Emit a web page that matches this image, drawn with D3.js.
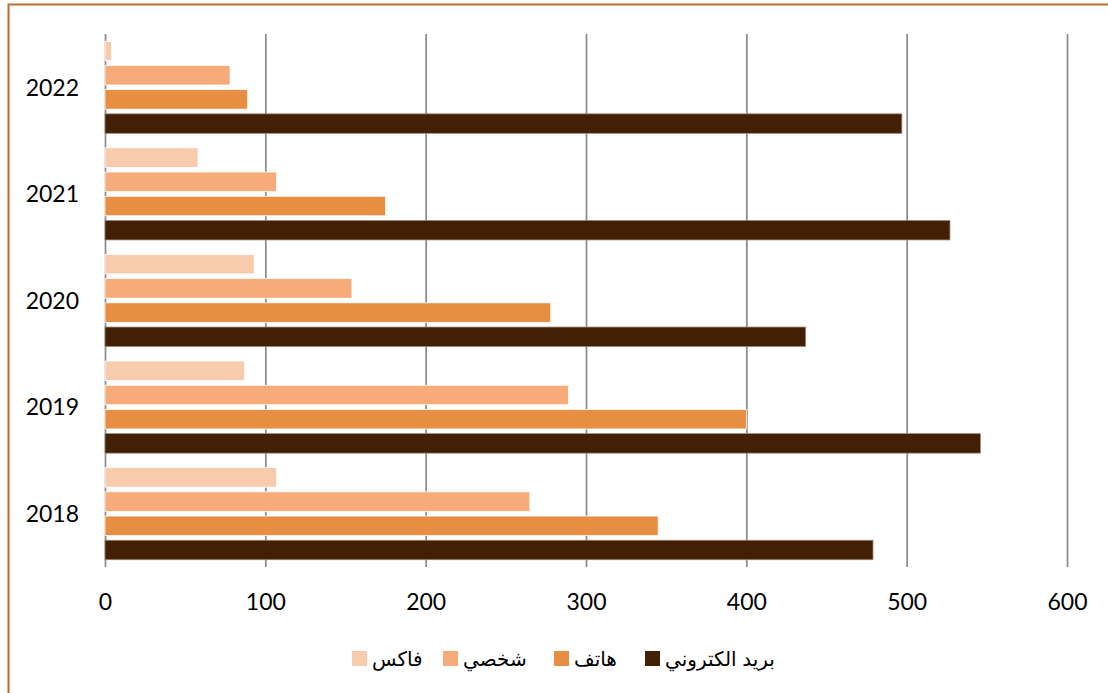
<!DOCTYPE html>
<html>
<head>
<meta charset="utf-8">
<script src="https://cdn.jsdelivr.net/npm/d3@7"></script>
<style>
  html, body { margin: 0; padding: 0; background: #ffffff; }
  svg { display: block; }
</style>
</head>
<body>
<svg id="chart" width="1108" height="693"></svg>
<script>
// ---- data ----
const years = ["2022", "2021", "2020", "2019", "2018"];          // top to bottom
const seriesKeys = ["fax", "personal", "phone", "email"];          // top to bottom inside a year
const seriesNames = ["فاكس", "شخصي", "هاتف", "بريد الكتروني"];
const seriesColors = ["#F8CBAD", "#F7AB78", "#E88E42", "#432004"];
const faxValues      = [4, 58, 93, 87, 107];
const personalValues = [78, 107, 154, 289, 265];
const phoneValues    = [89, 175, 278, 400, 345];
const emailValues    = [497, 527, 437, 546, 479];
const xTicks = [0, 100, 200, 300, 400, 500, 600];

const valuesBySeries = [faxValues, personalValues, phoneValues, emailValues];
const rows = years.map((yr, i) => ({
  year: yr,
  values: seriesKeys.map((k, s) => ({ key: k, s, value: valuesBySeries[s][i] }))
}));

// ---- layout ----
const W = 1108, H = 693;
const margin = { left: 105, right: 41, top: 34, bottom: 126 };
const svg = d3.select("#chart");

// frame
svg.append("rect")
  .attr("x", 8.5).attr("y", 4.5)
  .attr("width", W + 10).attr("height", H + 10)
  .attr("fill", "#ffffff")
  .attr("stroke", "#C0692E").attr("stroke-width", 2);

const x = d3.scaleLinear().domain([0, 600]).range([margin.left, W - margin.right]);
const y0 = d3.scaleBand().domain(years).range([margin.top, H - margin.bottom]).padding(0);
const y1 = d3.scaleBand().domain(seriesKeys).range([0, y0.bandwidth()])
  .paddingInner(0.194).paddingOuter(0.3);

// gridlines
const grid = d3.axisBottom(x).tickValues(xTicks).tickSize(-(H - margin.bottom - margin.top)).tickFormat("");
svg.append("g")
  .attr("transform", `translate(0,${H - margin.bottom})`)
  .call(grid)
  .call(g => g.select(".domain").remove())
  .call(g => g.selectAll(".tick line").attr("stroke", "#8C8C8C").attr("stroke-width", 1.75));

// bars
const groups = svg.append("g").selectAll("g")
  .data(rows).join("g")
  .attr("transform", d => `translate(0,${y0(d.year)})`);

groups.selectAll("rect")
  .data(d => d.values).join("rect")
  .attr("x", x(0))
  .attr("y", d => y1(d.key))
  .attr("width", d => x(d.value) - x(0))
  .attr("height", y1.bandwidth())
  .attr("fill", d => seriesColors[d.s])
  .attr("stroke", d => d.s === 3 ? "#9c8878" : "#ffffff")
  .attr("stroke-width", 0.75);

// x axis labels
const xAxis = d3.axisBottom(x).tickValues(xTicks).tickSize(0).tickPadding(0).tickFormat(d3.format("d"));
svg.append("g")
  .attr("transform", `translate(0,${H - margin.bottom})`)
  .call(xAxis)
  .call(g => g.select(".domain").remove())
  .call(g => g.selectAll(".tick text")
    .attr("y", 43).attr("dy", 0)
    .attr("fill", "#000000")
    .style("font-family", "Lato, 'Open Sans', sans-serif")
    .style("font-size", "23px"));

// y axis labels
const yAxis = d3.axisLeft(y0).tickSize(0).tickPadding(0);
svg.append("g")
  .attr("transform", `translate(${margin.left},0)`)
  .call(yAxis)
  .call(g => g.select(".domain").remove())
  .call(g => g.selectAll(".tick text")
    .attr("x", -26).attr("dy", "0.36em")
    .attr("fill", "#000000")
    .style("font-family", "Lato, 'Open Sans', sans-serif")
    .style("font-size", "23px"));

// legend (left to right: fax, personal, phone, email)
const legendX = [352, 443, 554, 645];
const legend = svg.append("g");
const items = legend.selectAll("g").data(seriesKeys).join("g")
  .attr("transform", (d, i) => `translate(${legendX[i]},651)`);
items.append("rect")
  .attr("width", 15).attr("height", 15)
  .attr("fill", (d, i) => seriesColors[i]);
items.append("text")
  .attr("x", 20).attr("y", 15)
  .attr("fill", "#000000")
  .style("font-family", "'Liberation Sans', Arial, 'DejaVu Sans', sans-serif")
  .style("font-size", "20px")
  .text((d, i) => seriesNames[i]);
</script>
</body>
</html>
